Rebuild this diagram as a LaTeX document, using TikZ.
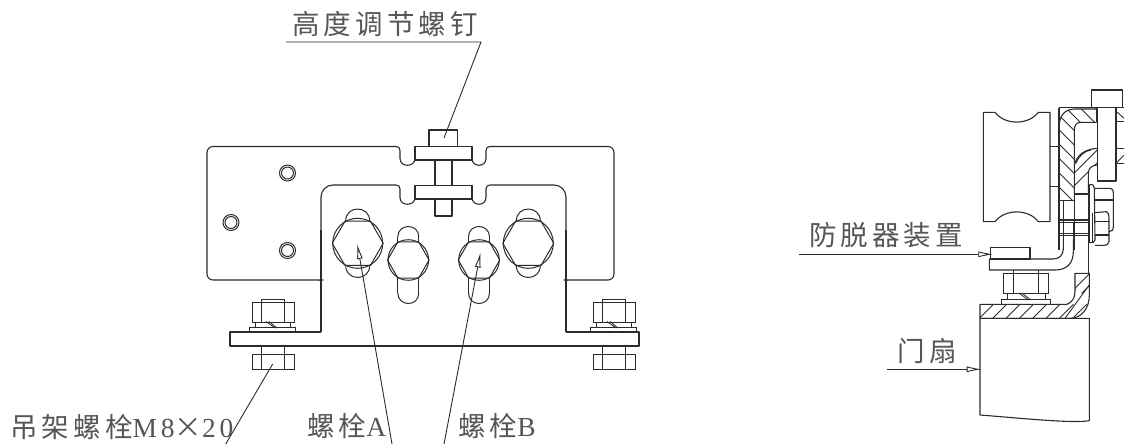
\documentclass[tikz,border=0pt]{standalone}
\usepackage{fontspec}
\usetikzlibrary{arrows.meta}
\newfontfamily\cjk[LetterSpace=15]{Noto Sans CJK SC}
\newfontfamily\lat[LetterSpace=14]{Liberation Serif}
\definecolor{ink}{HTML}{2E2A2A}
\tikzset{
 part/.style={draw=ink,line width=1.1pt,line join=round},
 thin part/.style={draw=ink,line width=.8pt},
 leader/.style={draw=ink,line width=.9pt},
 hatch/.style={draw=ink,line width=.9pt},
 open tip/.style={-{Latex[open,fill=white,length=15pt,width=6pt]}},
 lab/.style={inner sep=0pt,text=ink!80,font=\fontsize{27.5}{29}\selectfont\cjk},
}
\begin{document}
\begin{tikzpicture}[x=1pt,y=-1pt]
\useasboundingbox (0,0) rectangle (1124,444);
% ---------- labels ----------
\node[lab] (hs) at (385,24) {高度调节螺钉};
\node[lab,anchor=west] (hanger) at (10,427) {吊架螺栓{\lat M8}×{\lat 20}};
\node[lab,anchor=west] (ba) at (307,426) {螺栓{\lat A}};
\node[lab,anchor=west] (bb) at (458,426) {螺栓{\lat B}};
\node[lab] (guard) at (886,235) {防脱器装置};
\node[lab] (door) at (927,351) {门扇};
% ---------- front view: plate ----------
\draw[part,rounded corners=6pt] (396,146.5) -- (207,146.5) -- (207,280) -- (317,280) [rounded corners=2pt] -- (321,280) -- (321,284);
\draw[part] (396,146.5) .. controls (398.5,146.5) and (400,148) .. (400,150.5) -- (400,158.5) .. controls (400,167.5) and (415,167.5) .. (415,158.5);
\draw[part] (472,158.5) .. controls (472,167.5) and (486,167.5) .. (486,158.5) -- (486,150.5) .. controls (486,148) and (487.5,146.5) .. (490,146.5);
\draw[part,rounded corners=6pt] (490,146.5) -- (614,146.5) -- (614,280) -- (570,280) [rounded corners=2pt] -- (566,280) -- (566,284);
\draw[part,rounded corners=12pt] (396,185) -- (321,185) -- (321,240);
\draw[part] (321,230) -- (321,332);
\draw[part] (396,185) .. controls (398.5,185) and (400,186.5) .. (400,189) -- (400,197.5) .. controls (400,206.5) and (415,206.5) .. (415,197.5);
\draw[part] (472,197.5) .. controls (472,206.5) and (486,206.5) .. (486,197.5) -- (486,189) .. controls (486,186.5) and (487.5,185) .. (490,185);
\draw[part,rounded corners=12pt] (490,185) -- (566,185) -- (566,240);
\draw[part] (566,230) -- (566,332);
% height screw
\draw[part] (429,146.5) rectangle (457.5,130);
\draw[part] (415,146.5) rectangle (472,160);
\draw[part] (415,185.5) rectangle (472,199);
\draw[part] (435,160) -- (435,185.5) (452,160) -- (452,185.5);
\draw[part] (435,199) -- (435,216) -- (452,216) -- (452,199);
% holes
\foreach \n/\p in {h1/{(287.5,173)},h2/{(231,222.5)},h3/{(287.5,250.5)}}{
  \draw[part,line width=1pt] \p circle[radius=8];
  \draw[part,line width=1pt] \p circle[radius=6];
}
% slots and bolts
\foreach \cx/\cy/\rr/\hw/\ta/\tb in {357.7/243.3/25/12/221/265.5, 528.3/243.3/25/12/221/265.5, 408.3/260/20.3/10.5/237/293, 479/260/20.3/10.5/237/293}{
  \draw[part,line width=1pt] (\cx-\hw,\ta) .. controls (\cx-\hw,\ta-1.33*\hw) and (\cx+\hw,\ta-1.33*\hw) .. (\cx+\hw,\ta);
  \draw[part,line width=1pt] (\cx-\hw,\tb) .. controls (\cx-\hw,\tb+1.33*\hw) and (\cx+\hw,\tb+1.33*\hw) .. (\cx+\hw,\tb);
  \draw[part,line width=1pt] (\cx,\cy) circle[radius=\rr];
  \draw[part,line width=1pt] (\cx,\cy) ++(\rr+.5,0) -- ++(120:\rr+.5) -- ++(180:\rr+.5) -- ++(240:\rr+.5) -- ++(300:\rr+.5) -- ++(0:\rr+.5) -- cycle;
}
\foreach \cx in {408.3,479}{
  \draw[part,line width=1pt] (\cx-10.5,237) -- (\cx-10.5,242) (\cx+10.5,237) -- (\cx+10.5,242)
   (\cx-10.5,278) -- (\cx-10.5,293) (\cx+10.5,278) -- (\cx+10.5,293);
}
% flange
\draw[part] (321,332) -- (230,332) -- (230,346) -- (639,346) -- (639,332) -- (566,332);
% nuts on flange
\foreach \dx in {0,341}{
 \begin{scope}[xshift=\dx pt]
  \draw[thin part] (252,302.7) rectangle (294,322);
  \draw[thin part] (261.3,299.5) rectangle (284.7,322);
  \draw[thin part] (255.7,322) -- (255.7,327.7) (290.7,322) -- (290.7,327.7);
  \draw[thin part] (249.7,332) -- (249.7,327.7) -- (295.7,327.7) -- (295.7,332);
  \draw[thin part] (266,321.5) -- (275,328) (269,321.5) -- (277,328);
  \draw[thin part] (261.3,346) -- (261.3,369.3) (284.7,346) -- (284.7,369.3);
  \draw[thin part] (252,354.7) rectangle (294,369.3);
 \end{scope}
}
% ---------- side view: upper part (zoom coordinates) ----------
\begin{scope}[shift={(960,70)},scale=.33333]
 \draw[part] (70,127) -- (105,127) .. controls (135,166) and (205,166) .. (235,127) -- (270,127) -- (270,455) -- (235,455) .. controls (205,416) and (135,416) .. (105,455) -- (70,455) -- cycle;
 \draw[part] (270,230) -- (297,230) (270,350) -- (297,350);
 % section 1
 \draw[part] (297,113) -- (492,113);
 \draw[part] (297,113) -- (297,540);
 \begin{scope}
  \clip (297,175) .. controls (297,135) and (315,117) .. (345,117) -- (410,117) -- (410,157) -- (362,157) .. controls (350,157) and (343,165) .. (343,180) -- (343,392) -- (297,392) -- cycle;
  \foreach \i in {-240,-197,...,200}{\draw[hatch] (\i,0) ++(100,0) -- ++(400,400);}
 \end{scope}
 \draw[part] (297,175) .. controls (297,135) and (315,117) .. (345,117) -- (410,117);
 \draw[part] (410,157) -- (362,157) .. controls (350,157) and (343,165) .. (343,180) -- (343,392);
 \draw[part] (410,113) -- (410,157);
 % section 2
 \begin{scope}
  \clip (343,285) .. controls (350,255) and (375,237) .. (413,235) -- (413,285) .. controls (395,285) and (385,295) .. (385,310) -- (385,340) -- (343,372) -- cycle;
  \foreach \i in {300,338,...,640}{\draw[hatch] (\i,200) -- ++(-220,220);}
 \end{scope}
 \draw[part] (343,285) .. controls (350,255) and (375,237) .. (413,235);
 \draw[part] (413,285) .. controls (395,285) and (385,295) .. (385,310) -- (385,372);
 \draw[part] (348,280) .. controls (355,258) and (375,242) .. (392,240);
 \draw[part] (297,392) -- (343,392) (343,372) -- (385,372);
 % bolt
 \draw[part] (394,113) -- (394,60) -- (487,60) -- (487,113);
 \draw[part] (413,113) -- (413,333) -- (468,333) -- (468,113);
 \draw[part] (468,155) -- (492,155) (468,235) -- (492,235) (468,281) -- (492,281);
 \draw[hatch] (470,125) -- (492,145) (470,278) -- (492,256);
 % lower verticals
 \draw[part] (310,392) -- (310,540) (343,372) -- (343,540) (385,372) -- (385,540);
 \draw[part,line width=1.5pt] (297,450) -- (388,450) (297,458) -- (388,458) (297,490) -- (388,490) (297,497) -- (388,497);
 % nuts at right
 \draw[part] (388,345) .. controls (398,340) and (403,348) .. (403,355) -- (405,510) .. controls (405,518) and (395,520) .. (388,518) -- cycle;
 \draw[part] (405,355) -- (450,355) .. controls (458,355) and (460,360) .. (460,368) -- (460,470) .. controls (460,480) and (455,485) .. (447,485);
 \draw[part] (405,428) -- (440,425) .. controls (446,428) and (447,435) .. (447,445) -- (447,515) .. controls (445,524) and (440,526) .. (432,526) -- (405,526);
 \draw[part] (398,428) -- (398,520);
 \draw[part] (405,390) -- (458,390) (405,455) -- (447,455) (405,495) -- (447,495);
\end{scope}
% ---------- side view: lower part ----------
\begin{scope}[shift={(780,210)},scale=.33333]
 \draw[part] (837,40) -- (837,85) (850,85) -- (850,40) (880,85) -- (880,40);
 % angle bracket
 \draw[part] (632,147) rectangle (750,112);
 \draw[part] (850,85) -- (850,115) .. controls (850,135) and (838,147) .. (820,147) -- (628,147) -- (628,180) -- (825,180) .. controls (860,180) and (880,160) .. (880,125) -- (880,85);
 \draw[part] (925,115) -- (925,190);
 % nut
 \draw[thin part] (670,190) rectangle (805,250);
 \draw[thin part] (700,180) -- (700,250) (775,180) -- (775,250);
 \draw[thin part] (682,250) -- (682,268) (795,250) -- (795,268);
 \draw[thin part] (665,283) -- (665,268) -- (810,268) -- (810,283);
 \draw[thin part] (718,250) -- (745,270) (727,250) -- (750,268);
 % hatched section
 \def\sect{(600,283) -- (860,283) .. controls (875,278) and (885,265) .. (885,245) -- (885,190) -- (928,190) -- (928,255) .. controls (928,295) and (905,325) .. (870,325) -- (600,325) -- cycle}
 \begin{scope}
  \clip \sect;
  \foreach \i in {640,680,...,1040}{\draw[hatch] (\i,283) -- ++(-42,42);}
  \foreach \i in {930,965,1000}{\draw[hatch] (\i,190) -- ++(-60,60);}
  \draw[hatch] (930,222) -- (855,325);
 \end{scope}
 \draw[part] \sect;
 % door
 \draw[part] (600,325) -- (928,325) -- (928,632) .. controls (880,640) and (760,628) .. (600,615) -- cycle;
\end{scope}
% ---------- connectors ----------
\coordinate (hsa) at (286,42);
\coordinate (hsb) at (481,42);
\coordinate (hst) at (444,138);
\draw[leader] (hsa) -- (hsb) -- (hst);
\coordinate (hang1) at (225.7,444);
\coordinate (hang2) at (272.7,364);
\draw[leader] (hang1) -- (hang2);
\coordinate (af) at (392,444);
\coordinate (at) at (357.3,244);
\draw[leader,open tip] (af) -- (at);
\coordinate (bf) at (444,444);
\coordinate (bt) at (480.5,252.5);
\draw[leader,open tip] (bf) -- (bt);
\coordinate (gf) at (799.3,254.3);
\coordinate (gt) at (993.3,254.3);
\draw[leader,open tip] (gf) -- (gt);
\coordinate (df) at (887.3,369.3);
\coordinate (dt) at (981.7,369.3);
\draw[leader,open tip] (df) -- (dt);
\end{tikzpicture}
\end{document}
